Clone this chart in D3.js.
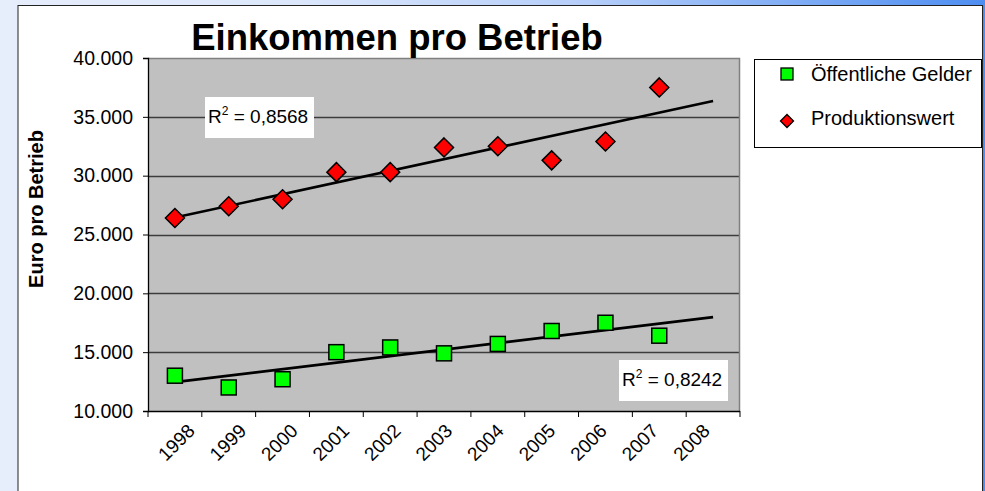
<!DOCTYPE html>
<html><head><meta charset="utf-8">
<script src="https://cdn.jsdelivr.net/npm/d3@7"></script>
<style>
html,body{margin:0;padding:0;width:985px;height:491px;overflow:hidden;}
body{background:linear-gradient(to right,#e6edfb 0%,#dce7fb 30%,#b4cdf9 60%,#4e8ef1 100%);}
svg{display:block;font-family:"Liberation Sans",Arial,sans-serif;}
</style></head><body>
<svg id="c" width="985" height="491"></svg>
<script>
const years = ['1998','1999','2000','2001','2002','2003','2004','2005','2006','2007','2008'];
const oeffentlicheGelder = [13000, 12000, 12700, 15000, 15400, 14900, 15700, 16800, 17500, 16400];
const produktionswert = [26400, 27400, 28000, 30300, 30300, 32400, 32500, 31300, 32900, 37500];
const yTicks = [10000, 15000, 20000, 25000, 30000, 35000, 40000];
const seriesNames = ['Öffentliche Gelder', 'Produktionswert'];
const r2Values = ['0,8568', '0,8242'];
const titleText = 'Einkommen pro Betrieb';
const yTitle = 'Euro pro Betrieb';

const svg = d3.select('#c');
const de = d3.formatLocale({decimal: ',', thousands: '.', grouping: [3], currency: ['', ' €']});
const fmt = de.format(',d');

// chart frame
svg.append('rect').attr('x', 18).attr('y', 5.5).attr('width', 964.5).attr('height', 500)
  .attr('fill', '#fff').attr('stroke', '#222').attr('stroke-width', 1);

const L = 148, R = 740, T = 58, B = 411;
const x = d3.scaleBand().domain(years).range([L, R]).padding(0);
const y = d3.scaleLinear().domain([10000, 40000]).range([B, T]);
const cx = i => x(years[i]) + x.bandwidth() / 2;

// plot area
svg.append('rect').attr('x', L).attr('y', T).attr('width', R - L).attr('height', B - T)
  .attr('fill', '#c0c0c0');
// gridlines
svg.append('g').selectAll('line').data(yTicks.filter(d => d > 10000 && d < 40000)).join('line')
  .attr('x1', L).attr('x2', R).attr('y1', d => Math.round(y(d)) + 0.5).attr('y2', d => Math.round(y(d)) + 0.5)
  .attr('stroke', '#3c3c3c').attr('stroke-width', 1.3);
// plot border top/right
svg.append('path').attr('d', `M${L},${T + 0.5}H${R - 0.5}V${B}`).attr('fill', 'none')
  .attr('stroke', '#808080').attr('stroke-width', 1.5);

// y axis
const yAxis = d3.axisLeft(y).tickValues(yTicks).tickFormat(fmt).tickSize(5).tickPadding(10);
const gy = svg.append('g').attr('transform', `translate(${L},0)`).call(yAxis);
gy.select('.domain').attr('stroke', '#000').attr('stroke-width', 1.3);
gy.selectAll('.tick line').attr('stroke', '#000');
gy.selectAll('text').attr('font-size', 19.5).attr('fill', '#000').attr('font-family', '"Liberation Sans",Arial,sans-serif');

// x axis: ticks at category boundaries
const gx = svg.append('g');
gx.append('line').attr('x1', L).attr('x2', R).attr('y1', B + 0.5).attr('y2', B + 0.5)
  .attr('stroke', '#000').attr('stroke-width', 1.3);
const bounds = years.map(d => x(d)).concat([x.range()[1]]);
gx.selectAll('line.t').data(bounds).join('line').attr('class', 't')
  .attr('x1', d => d).attr('x2', d => d).attr('y1', B).attr('y2', B + 6)
  .attr('stroke', '#000').attr('stroke-width', 1);
const labelX = d3.scaleLinear().domain([0, years.length - 1]).range([cx(0) + 21, cx(years.length - 1) - 2]);
gx.selectAll('text').data(years).join('text')
  .attr('transform', (d, i) => `translate(${labelX(i)},${B + 21}) rotate(-45)`)
  .attr('text-anchor', 'end').attr('font-size', 19).attr('fill', '#000').text(d => d);

// trendlines (least squares)
function fit(vals) {
  const n = vals.length, idx = d3.range(n);
  const mx = d3.mean(idx), my = d3.mean(vals);
  const sxy = d3.sum(idx, i => (i - mx) * (vals[i] - my));
  const sxx = d3.sum(idx, i => (i - mx) * (i - mx));
  const m = sxy / sxx, b = my - m * mx;
  return [0, years.length - 1].map(i => [i, b + m * i]);
}
const line = d3.line().x(d => cx(d[0])).y(d => y(d[1]));
[produktionswert, oeffentlicheGelder].forEach(v => {
  svg.append('path').attr('d', line(fit(v))).attr('fill', 'none')
    .attr('stroke', '#000').attr('stroke-width', 2.6);
});

// markers
svg.append('g').selectAll('rect').data(oeffentlicheGelder).join('rect')
  .attr('x', (d, i) => cx(i) - 7.5).attr('y', d => y(d) - 7.5)
  .attr('width', 15).attr('height', 15)
  .attr('fill', '#00ff00').attr('stroke', '#000').attr('stroke-width', 1.5);
const dia = s => `M0,${-s}L${s},0L0,${s}L${-s},0Z`;
svg.append('g').selectAll('path').data(produktionswert).join('path')
  .attr('transform', (d, i) => `translate(${cx(i)},${y(d)})`)
  .attr('d', dia(9.5))
  .attr('fill', '#ff0000').attr('stroke', '#000').attr('stroke-width', 1.5);

// R² labels
function r2(xb, yb, val) {
  const g = svg.append('g');
  g.append('rect').attr('x', xb).attr('y', yb).attr('width', 109).attr('height', 41).attr('fill', '#fff');
  const t = g.append('text').attr('x', xb + 3).attr('y', yb + 26).attr('font-size', 19).attr('fill', '#000');
  t.append('tspan').text('R');
  t.append('tspan').attr('font-size', 12).attr('dy', -8).text('2');
  t.append('tspan').attr('dy', 8).text(' = ' + val);
}
r2(205, 97, r2Values[0]);
r2(619, 360, r2Values[1]);

// title
svg.append('text').attr('x', 397).attr('y', 50).attr('text-anchor', 'middle')
  .attr('font-size', 36.5).attr('font-weight', 'bold').attr('fill', '#000').text(titleText);
// y title
svg.append('text').attr('transform', 'translate(43,209) rotate(-90)').attr('text-anchor', 'middle')
  .attr('font-size', 20).attr('font-weight', 'bold').attr('fill', '#000').text(yTitle);

// legend
const lg = svg.append('g');
lg.append('rect').attr('x', 754.5).attr('y', 59.5).attr('width', 227).attr('height', 88)
  .attr('fill', '#fff').attr('stroke', '#000').attr('stroke-width', 1);
lg.append('rect').attr('x', 781).attr('y', 68).attr('width', 12).attr('height', 12)
  .attr('fill', '#00ff00').attr('stroke', '#000').attr('stroke-width', 1.3);
lg.append('path').attr('transform', 'translate(787,121)').attr('d', dia(6.5))
  .attr('fill', '#ff0000').attr('stroke', '#000').attr('stroke-width', 1.3);
lg.append('text').attr('x', 811).attr('y', 81).attr('font-size', 20).attr('fill', '#000').text(seriesNames[0]);
lg.append('text').attr('x', 811).attr('y', 125).attr('font-size', 20).attr('fill', '#000').text(seriesNames[1]);
</script>
</body></html>
